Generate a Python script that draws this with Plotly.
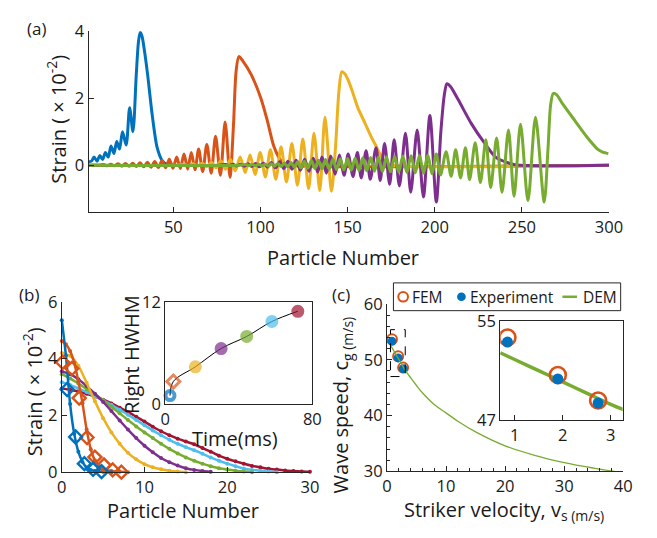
import plotly.graph_objects as go

W, H = 657, 538
FONT = "Open Sans"
AX = "#262626"
TXT = "#1a1a1a"

C_BLUE = "#0072BD"
C_ORANGE = "#D95319"
C_YELLOW = "#EDB120"
C_PURPLE = "#7E2F8E"
C_GREEN = "#77AC30"
C_CYAN = "#4DBEEE"
C_RED = "#A2142F"

# ---------------- Panel (a): strain profiles along the chain ----------------
a_blue_x = [1.3, 3, 4.5, 6.2, 7.8, 9.4, 11, 12.6, 14.2, 15.9, 17.5, 19.1, 20.8, 22.9, 24.9, 26.8,
            28.7, 30, 31, 32, 33.3, 35.2, 37.9, 40.7, 43.5, 46, 50]
a_blue_y = [0.1, 0.12, 0.24, 0.12, 0.29, 0.17, 0.38, 0.24, 0.57, 0.35, 0.71, 0.48, 1.0, 0.6, 1.71, 1.0,
            2.7, 3.7, 3.97, 3.85, 3.45, 2.71, 1.48, 0.52, 0.14, 0.03, 0.0]

a_orange_flat_x = [1.3, 7.8]
a_orange_flat_y = [0.0, 0.0]
a_orange_peak_x = [9.9, 14.1, 18.3, 22.5, 26.7, 30.9, 35.1, 39.3, 43.5, 47.7, 51.9, 56.1, 60.3, 64.5, 69.2, 74.2, 79.7]
a_orange_peak_y = [0.02, 0.03, 0.04, 0.05, 0.06, 0.07, 0.09, 0.11, 0.14, 0.18, 0.24, 0.33, 0.38, 0.48, 0.62, 0.86, 1.29]
a_orange_dip_x = [12.0, 16.2, 20.4, 24.6, 28.8, 33.0, 37.2, 41.4, 45.6, 49.8, 54.0, 58.2, 62.4, 66.8, 71.7, 77.0, 82.5]
a_orange_dip_y = [-0.02, -0.02, -0.03, -0.03, -0.04, -0.05, -0.06, -0.07, -0.08, -0.09, -0.1, -0.12, -0.14, -0.19, -0.24, -0.3, -0.36]
a_orange_pulse_x = [84.5, 86, 87.6, 90, 94.6, 100.2, 103.9, 107.6, 110.4, 113, 116, 300]
a_orange_pulse_y = [1.2, 2.8, 3.24, 3.1, 2.71, 2.0, 1.33, 0.57, 0.24, 0.05, 0.0, 0.0]

a_yellow_flat_x = [1.3, 52]
a_yellow_flat_y = [0.0, 0.0]
a_yellow_peak_x = [56.2, 61.3, 66.5, 71.8, 77.2, 82.7, 88.3, 94.0, 99.8, 105.7, 111.8, 118.0, 124.3, 130.7, 137.0]
a_yellow_peak_y = [0.02, 0.04, 0.06, 0.09, 0.13, 0.18, 0.24, 0.3, 0.38, 0.46, 0.55, 0.65, 0.78, 0.95, 1.43]
a_yellow_dip_x = [58.8, 64.0, 69.2, 74.5, 80.0, 85.5, 91.2, 96.9, 102.8, 108.8, 114.9, 121.2, 127.6, 134.0, 140.7]
a_yellow_dip_y = [-0.02, -0.03, -0.05, -0.08, -0.12, -0.17, -0.22, -0.28, -0.35, -0.42, -0.5, -0.6, -0.7, -0.76, -0.78]
a_yellow_pulse_x = [143, 145, 146.7, 148.5, 151, 153.5, 155.9, 160, 163.4, 166, 169, 171.7, 175, 300]
a_yellow_pulse_y = [0.5, 2.2, 2.79, 2.72, 2.45, 2.08, 1.71, 1.25, 0.86, 0.6, 0.29, 0.07, 0.0, 0.0]

a_purple_flat_x = [1.3, 76]
a_purple_flat_y = [0.0, 0.0]
a_purple_peak_x = [80.0, 84.2, 88.5, 92.8, 97.2, 101.7, 106.3, 111.0, 115.7, 120.5, 125.3, 130.3,
                   135.3, 140.3, 145.3, 150.3, 155.6, 160.6, 166.3, 171.2, 176.7, 183.2, 189.9, 197.2]
a_purple_peak_y = [0.02, 0.025, 0.03, 0.04, 0.05, 0.06, 0.08, 0.1, 0.12, 0.15, 0.18, 0.21,
                   0.24, 0.27, 0.3, 0.33, 0.38, 0.43, 0.52, 0.65, 0.76, 0.95, 1.05, 1.48]
a_purple_dip_x = [82.1, 86.3, 90.6, 95.0, 99.5, 104.0, 108.6, 113.3, 118.1, 122.9, 127.8, 132.8,
                  137.8, 142.8, 148.0, 153.1, 157.8, 163.0, 168.7, 174.1, 179.7, 186.2, 193.5, 200.9]
a_purple_dip_y = [-0.02, -0.025, -0.03, -0.04, -0.05, -0.06, -0.08, -0.1, -0.12, -0.15, -0.18, -0.21,
                  -0.24, -0.27, -0.3, -0.34, -0.38, -0.42, -0.46, -0.57, -0.62, -0.81, -0.95, -1.1]
a_purple_pulse_x = [203.5, 205.5, 207, 209, 213.5, 221, 228.4, 234.9, 241.4, 246, 300]
a_purple_pulse_y = [1.0, 2.1, 2.43, 2.35, 1.95, 1.24, 0.67, 0.24, 0.08, 0.01, 0.0]

a_green_flat_x = [1.3, 88]
a_green_flat_y = [0.0, 0.0]
a_green_peak_x = [91.7, 95.3, 99.0, 102.7, 106.3, 110.0, 113.7, 117.5, 121.3, 125.2,
                  129.2, 133.2, 137.3, 141.5, 145.7, 150.0, 154.3, 158.7, 163.2, 167.7,
                  172.3, 177.0, 181.7, 186.4, 191.2, 196.0, 200.9, 206.5, 212.0, 217.6,
                  223.2, 229.3, 235.5, 242.3, 249.2, 257.8]
a_green_peak_y = [0.02, 0.02, 0.03, 0.03, 0.04, 0.05, 0.06, 0.08, 0.1, 0.12,
                  0.14, 0.15, 0.17, 0.18, 0.19, 0.2, 0.21, 0.22, 0.23, 0.24,
                  0.25, 0.26, 0.27, 0.28, 0.29, 0.3, 0.33, 0.4, 0.46, 0.52,
                  0.67, 0.76, 0.81, 1.05, 1.22, 1.43]
a_green_dip_x = [93.5, 97.2, 100.8, 104.5, 108.1, 111.8, 115.6, 119.4, 123.2, 127.2,
                 131.2, 135.3, 139.4, 143.6, 147.8, 152.1, 156.5, 161.0, 165.4, 170.0,
                 174.6, 179.3, 184.0, 188.8, 193.6, 198.4, 203.3, 209.4, 214.8, 220.0,
                 226.2, 232.1, 238.6, 245.5, 253.5, 262.8]
a_green_dip_y = [-0.015, -0.02, -0.02, -0.03, -0.03, -0.04, -0.05, -0.06, -0.08, -0.09,
                 -0.1, -0.11, -0.12, -0.13, -0.14, -0.15, -0.16, -0.17, -0.18, -0.19,
                 -0.2, -0.21, -0.22, -0.23, -0.24, -0.26, -0.29, -0.33, -0.38, -0.43,
                 -0.52, -0.67, -0.81, -0.93, -1.06, -1.1]
a_green_pulse_x = [265, 266.5, 268, 270, 273, 280.4, 287.8, 293.4, 296, 298.6, 299.6]
a_green_pulse_y = [0.5, 1.8, 2.14, 2.1, 1.86, 1.33, 0.81, 0.48, 0.4, 0.36, 0.35]

a_xticks = [50, 100, 150, 200, 250, 300]
a_yticks = [0, 2, 4]

# ---------------- Panel (b): right half of the pulses ----------------
b_blue_x = [0, 0.5, 1, 1.5, 2, 2.5, 3, 3.5, 4, 5, 6]
b_blue_y = [5.35, 4.1, 2.4, 1.35, 0.72, 0.36, 0.16, 0.08, 0.04, 0.01, 0.0]
b_orange_x = [0, 0.5, 1, 1.5, 2, 2.5, 3, 3.5, 4, 5, 6, 7, 8]
b_orange_y = [4.62, 4.5, 4.27, 3.85, 3.2, 2.43, 1.5, 0.81, 0.42, 0.1, 0.04, 0.01, 0.0]
b_yellow_y = [4.2, 4.1, 3.75, 3.15, 2.5, 1.9, 1.4, 1.0, 0.68, 0.45, 0.28, 0.17, 0.1, 0.05, 0.02, 0.0]
b_purple_y = [3.55, 3.45, 3.27, 3.03, 2.76, 2.47, 2.15, 1.82, 1.5, 1.2, 0.93, 0.7, 0.5, 0.35, 0.23,
              0.14, 0.08, 0.04, 0.01]
b_green_y = [3.45, 3.3, 3.12, 2.93, 2.74, 2.53, 2.3, 2.07, 1.84, 1.61, 1.4, 1.2, 1.0, 0.82, 0.66,
             0.52, 0.4, 0.3, 0.21, 0.14, 0.09, 0.05, 0.02, 0.0]
b_cyan_y = [3.17, 3.07, 2.95, 2.82, 2.68, 2.53, 2.37, 2.2, 2.02, 1.84, 1.65, 1.47, 1.3, 1.14, 1.0,
            0.88, 0.77, 0.65, 0.52, 0.4, 0.3, 0.21, 0.13, 0.08, 0.05, 0.02, 0.0]
b_red_y = [2.95, 2.9, 2.84, 2.76, 2.66, 2.55, 2.42, 2.27, 2.12, 1.95, 1.78, 1.6, 1.44, 1.3, 1.18,
           1.08, 0.98, 0.85, 0.72, 0.58, 0.47, 0.38, 0.3, 0.22, 0.17, 0.12, 0.09, 0.06, 0.04, 0.02, 0.01]

b_exp_blue_x = [0.65, 1.67, 2.73, 3.78, 4.8]
b_exp_blue_y = [2.91, 1.24, 0.30, 0.1, 0.02]
b_exp_orange_x = [0.1, 1.22, 2.1, 3.05, 4.0, 5.1, 6.15, 7.2]
b_exp_orange_y = [3.87, 3.65, 2.61, 1.22, 0.53, 0.25, 0.08, 0.0]

b_xticks = [0, 10, 20, 30]
b_yticks = [0, 2, 4, 6]

# inset (b): right HWHM vs time
hw_time = [2.6, 4.4, 16.4, 30.4, 44.3, 58.0, 72.1]
hw_value = [0.97, 2.62, 4.35, 6.5, 7.92, 9.68, 10.88]
hw_colors = [C_BLUE, C_ORANGE, C_YELLOW, C_PURPLE, C_GREEN, C_CYAN, C_RED]
hw_symbols = ["circle-open", "diamond-open", "circle", "circle", "circle", "circle", "circle"]

# ---------------- Panel (c): wave speed vs striker velocity ----------------
c_vel = [0.85, 1.9, 2.74]
c_fem = [53.67, 50.65, 48.6]
c_exp = [53.3, 50.34, 48.4]
c_exp_err_y = [0.15, 0.15, 0.05]
c_exp_err_x = [0.02, 0.08, 0.08]
dem_vel = [0.7, 1, 1.5, 2, 2.5, 3, 4, 5, 6, 8, 10, 12, 15, 20, 25, 30, 35, 38.5]
dem_speed = [52.44, 51.9, 51.0, 50.1, 49.2, 48.3, 46.8, 45.4, 44.1, 42.0, 40.5, 39.0, 37.1, 34.6, 32.9,
             31.6, 30.6, 30.0]
legend_names = ["FEM", "Experiment", "DEM"]


def merge(*parts):
    pts = []
    for xs, ys in parts:
        pts += list(zip(xs, ys))
    pts.sort(key=lambda p: p[0])
    return [p[0] for p in pts], [p[1] for p in pts]


def xd(a, b):
    return [a / W, b / W]


def yd(top, bottom):
    return [1 - bottom / H, 1 - top / H]


def px(x):
    return x / W


def py(y):
    return 1 - y / H


fig = go.Figure()

# ---- (a)
a_curves = [
    (C_BLUE, [(a_blue_x, a_blue_y)]),
    (C_ORANGE, [(a_orange_flat_x, a_orange_flat_y), (a_orange_peak_x, a_orange_peak_y),
                (a_orange_dip_x, a_orange_dip_y), (a_orange_pulse_x, a_orange_pulse_y)]),
    (C_YELLOW, [(a_yellow_flat_x, a_yellow_flat_y), (a_yellow_peak_x, a_yellow_peak_y),
                (a_yellow_dip_x, a_yellow_dip_y), (a_yellow_pulse_x, a_yellow_pulse_y)]),
    (C_PURPLE, [(a_purple_flat_x, a_purple_flat_y), (a_purple_peak_x, a_purple_peak_y),
                (a_purple_dip_x, a_purple_dip_y), (a_purple_pulse_x, a_purple_pulse_y)]),
    (C_GREEN, [(a_green_flat_x, a_green_flat_y), (a_green_peak_x, a_green_peak_y),
               (a_green_dip_x, a_green_dip_y), (a_green_pulse_x, a_green_pulse_y)]),
]
for col, parts in a_curves:
    xs, ys = merge(*parts)
    fig.add_trace(go.Scatter(x=xs, y=ys, mode="lines", xaxis="x", yaxis="y",
                             line=dict(color=col, width=3, shape="spline", smoothing=0.8),
                             showlegend=False, hoverinfo="skip"))

# ---- (b) main
b_lines = [
    (C_RED, list(range(len(b_red_y))), b_red_y),
    (C_CYAN, list(range(len(b_cyan_y))), b_cyan_y),
    (C_GREEN, list(range(len(b_green_y))), b_green_y),
    (C_PURPLE, list(range(len(b_purple_y))), b_purple_y),
    (C_YELLOW, list(range(len(b_yellow_y))), b_yellow_y),
    (C_ORANGE, b_orange_x, b_orange_y),
    (C_BLUE, b_blue_x, b_blue_y),
]
for col, xs, ys in b_lines:
    fig.add_trace(go.Scatter(x=xs, y=ys, mode="lines+markers", xaxis="x2", yaxis="y2",
                             line=dict(color=col, width=2.5, shape="spline", smoothing=0.6),
                             marker=dict(color=col, size=4), cliponaxis=False,
                             showlegend=False, hoverinfo="skip"))
fig.add_trace(go.Scatter(x=b_exp_orange_x, y=b_exp_orange_y, mode="markers", xaxis="x2", yaxis="y2",
                         marker=dict(symbol="diamond-open", size=10, color=C_ORANGE, line=dict(width=2.4)),
                         cliponaxis=False, showlegend=False, hoverinfo="skip"))
fig.add_trace(go.Scatter(x=b_exp_blue_x, y=b_exp_blue_y, mode="markers", xaxis="x2", yaxis="y2",
                         marker=dict(symbol="diamond-open", size=10, color=C_BLUE, line=dict(width=2.4)),
                         cliponaxis=False, showlegend=False, hoverinfo="skip"))

# ---- (b) inset
fig.add_trace(go.Scatter(x=hw_time, y=hw_value, mode="lines", xaxis="x3", yaxis="y3",
                         line=dict(color="black", width=1, shape="spline"),
                         showlegend=False, hoverinfo="skip"))
fig.add_trace(go.Scatter(x=hw_time, y=hw_value, mode="markers", xaxis="x3", yaxis="y3",
                         marker=dict(symbol=hw_symbols, size=[9, 10, 11, 11, 11, 11, 11], color=hw_colors,
                                     line=dict(color=hw_colors, width=[4, 3, 2, 2, 2, 2, 2])),
                         cliponaxis=False, showlegend=False, hoverinfo="skip"))

# ---- (c) main
fig.add_trace(go.Scatter(x=c_vel, y=c_fem, mode="markers", xaxis="x4", yaxis="y4", name=legend_names[0],
                         marker=dict(symbol="circle-open", size=10, color=C_ORANGE, line=dict(width=2)),
                         cliponaxis=False, showlegend=False, hoverinfo="skip"))
fig.add_trace(go.Scatter(x=c_vel, y=c_exp, mode="markers", xaxis="x4", yaxis="y4", name=legend_names[1],
                         marker=dict(symbol="circle", size=9, color=C_BLUE),
                         error_y=dict(type="data", array=c_exp_err_y, color="red", thickness=1, width=0),
                         cliponaxis=False, showlegend=False, hoverinfo="skip"))
fig.add_trace(go.Scatter(x=dem_vel, y=dem_speed, mode="lines", xaxis="x4", yaxis="y4", name=legend_names[2],
                         line=dict(color=C_GREEN, width=1.3, shape="spline"), showlegend=False,
                         hoverinfo="skip"))

# ---- (c) inset
fig.add_trace(go.Scatter(x=dem_vel, y=dem_speed, mode="lines", xaxis="x5", yaxis="y5",
                         line=dict(color=C_GREEN, width=3.5, shape="spline"),
                         showlegend=False, hoverinfo="skip"))
fig.add_trace(go.Scatter(x=c_vel, y=c_fem, mode="markers", xaxis="x5", yaxis="y5",
                         marker=dict(symbol="circle-open", size=16, color=C_ORANGE, line=dict(width=2.6)),
                         showlegend=False, hoverinfo="skip"))
fig.add_trace(go.Scatter(x=c_vel, y=c_exp, mode="markers", xaxis="x5", yaxis="y5",
                         marker=dict(symbol="circle", size=11, color=C_BLUE),
                         error_y=dict(type="data", array=c_exp_err_y, color="red", thickness=1.5, width=2),
                         error_x=dict(type="data", array=c_exp_err_x, color="red", thickness=1.5, width=2),
                         showlegend=False, hoverinfo="skip"))


def ax(**kw):
    d = dict(showline=True, linecolor=AX, linewidth=1, ticks="inside", ticklen=5, tickcolor=AX,
             tickfont=dict(size=16.5, color=TXT, family=FONT), showgrid=False, zeroline=False,
             fixedrange=True)
    d.update(kw)
    return d


def label(text, x, y, angle=0, size=20, anchor="center"):
    return dict(text=text, x=px(x), y=py(y), xref="paper", yref="paper", showarrow=False,
                textangle=angle, font=dict(size=size, color=TXT, family=FONT),
                xanchor=anchor, yanchor="middle")


annotations = [
    label("(a)", 32, 17, size=17),
    label("(b)", 25, 295, size=17),
    label("(c)", 346, 295, size=17),
    label("Strain ( × 10<sup>-2</sup>)", 53, 112, angle=-90),
    label("Particle Number", 348, 256),
    label("Strain ( × 10<sup>-2</sup>)", 28, 397, angle=-90),
    label("Particle Number", 183, 521),
    label("Right HWHM", 130, 358, angle=-90),
    label("Time(ms)", 237, 446),
    label("Wave speed, c<sub>g (m/s)</sub>", 347, 410, angle=-90),
    label("Striker velocity, v<sub>s (m/s)</sub>", 514, 521),
    # legend texts (panel c)
    label(legend_names[0], 417, 297.5, size=15.5, anchor="left"),
    label(legend_names[1], 477, 297.5, size=15.5, anchor="left"),
    label(legend_names[2], 593, 297.5, size=15.5, anchor="left"),
]

shapes = [
    # dashed zoom box in (c)
    dict(type="rect", xref="x4", yref="y4", x0=0.6, x1=3.1, y0=47, y1=55.4,
         line=dict(color="black", width=1, dash="dash")),
    # legend frame and keys for (c)
    dict(type="rect", xref="paper", yref="paper", x0=px(400), x1=px(634), y0=py(312), y1=py(283),
         line=dict(color=AX, width=1), fillcolor="white", layer="above"),
    dict(type="circle", xref="paper", yref="paper", x0=px(405), x1=px(415), y0=py(302.5), y1=py(292.5),
         line=dict(color=C_ORANGE, width=2), fillcolor="white", layer="above"),
    dict(type="circle", xref="paper", yref="paper", x0=px(465.5), x1=px(474.5), y0=py(302), y1=py(293),
         line=dict(color=C_BLUE, width=0), fillcolor=C_BLUE, layer="above"),
    dict(type="line", xref="paper", yref="paper", x0=px(574), x1=px(589), y0=py(297.5), y1=py(297.5),
         line=dict(color=C_GREEN, width=2.5), layer="above"),
]

fig.update_layout(
    width=W, height=H, autosize=False,
    margin=dict(l=0, r=0, t=0, b=0),
    paper_bgcolor="white", plot_bgcolor="white",
    font=dict(family=FONT, color=TXT),
    showlegend=False,
    xaxis=ax(domain=xd(86, 622), range=[1.3, 300], tickvals=a_xticks, anchor="y"),
    yaxis=ax(domain=yd(20, 209), range=[-1.4, 4], tickvals=a_yticks, anchor="x"),
    xaxis2=ax(domain=xd(58.5, 314), range=[0, 30], tickvals=b_xticks, anchor="y2"),
    yaxis2=ax(domain=yd(302.7, 480.7), range=[0, 6], tickvals=b_yticks, anchor="x2"),
    xaxis3=ax(domain=xd(165, 316.5), range=[0, 80], tickvals=[0, 80], anchor="y3", mirror=True),
    yaxis3=ax(domain=yd(302.7, 409.3), range=[0, 12], tickvals=[0, 12], anchor="x3", mirror=True),
    xaxis4=ax(domain=xd(393.3, 636.7), range=[0, 40], tickvals=[0, 10, 20, 30, 40], anchor="y4",
              minor=dict(dtick=2, ticks="inside", ticklen=3, tickcolor=AX)),
    yaxis4=ax(domain=yd(305, 480), range=[30, 60], tickvals=[30, 40, 50, 60], anchor="x4",
              minor=dict(dtick=2, ticks="inside", ticklen=3, tickcolor=AX)),
    xaxis5=ax(domain=xd(510, 636), range=[0.7, 3.25], tickvals=[1, 2, 3], anchor="y5", mirror=True),
    yaxis5=ax(domain=yd(322.7, 426.7), range=[47, 55], tickvals=[47, 55], anchor="x5", mirror=True),
    annotations=annotations,
    shapes=shapes,
)

fig.write_html("out.html", config={"displayModeBar": False, "staticPlot": True},
               post_script="document.body.style.margin='0';document.body.style.overflow='hidden';")
